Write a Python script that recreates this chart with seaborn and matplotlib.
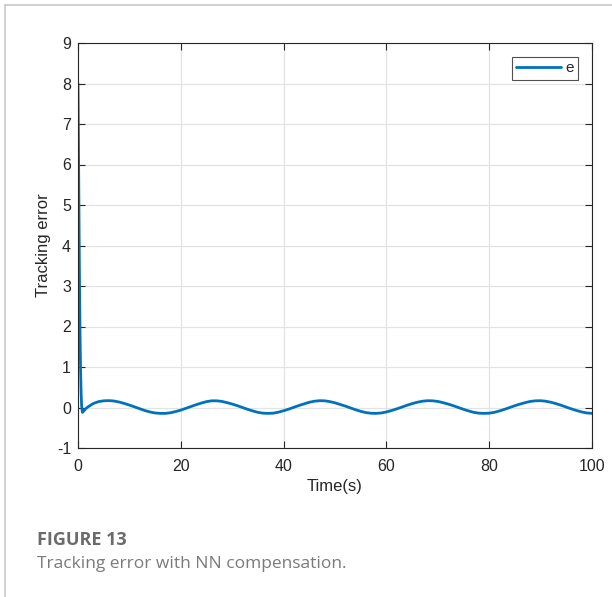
import matplotlib
matplotlib.use("Agg")
import matplotlib.pyplot as plt
from matplotlib.lines import Line2D
import seaborn as sns
import pandas as pd

# ---- data ----
time_head = [0, 0.1, 0.2, 0.3, 0.4, 0.5, 0.6, 0.7, 0.85, 1.1, 1.5]
error_head = [8.0, 6.4, 4.6, 3.0, 1.8, 0.95, 0.4, 0.05, -0.12, -0.09, -0.03]

time_body = list(range(2, 101))
error_body = [
    0.02, 0.10, 0.145, 0.165, 0.17, 0.16, 0.135, 0.10, 0.06,           # 2-10
    0.015, -0.03, -0.075, -0.11, -0.135, -0.145, -0.145, -0.13, -0.10, -0.065,  # 11-20
    -0.02, 0.025, 0.07, 0.11, 0.145, 0.165, 0.165, 0.15, 0.12, 0.085,   # 21-30
    0.045, 0.0, -0.045, -0.085, -0.12, -0.14, -0.145, -0.14, -0.115, -0.08,  # 31-40
    -0.04, 0.005, 0.05, 0.09, 0.13, 0.155, 0.168, 0.165, 0.145, 0.115,  # 41-50
    0.075, 0.035, -0.01, -0.055, -0.095, -0.125, -0.142, -0.145, -0.135, -0.11,  # 51-60
    -0.075, -0.035, 0.01, 0.055, 0.095, 0.13, 0.155, 0.168, 0.165, 0.15,  # 61-70
    0.12, 0.085, 0.045, 0.0, -0.045, -0.085, -0.12, -0.14, -0.145, -0.14,  # 71-80
    -0.12, -0.085, -0.045, 0.0, 0.045, 0.085, 0.12, 0.15, 0.165, 0.168,  # 81-90
    0.155, 0.13, 0.095, 0.055, 0.01, -0.035, -0.075, -0.11, -0.135, -0.145,  # 91-100
]

x_ticks = [0, 20, 40, 60, 80, 100]
y_ticks = [-1, 0, 1, 2, 3, 4, 5, 6, 7, 8, 9]

df = pd.DataFrame({"Time": time_head + time_body, "e": error_head + error_body})

sns.set_style("ticks")
plt.rcParams["font.family"] = ["Liberation Sans", "DejaVu Sans"]
plt.rcParams["axes.unicode_minus"] = False

W, H = 612, 597
fig = plt.figure(figsize=(W / 100, H / 100), dpi=100)
ax = fig.add_axes([78 / W, 1 - 448 / H, (592 - 78) / W, (448 - 43) / H])

sns.lineplot(data=df, x="Time", y="e", ax=ax, color="#0072BD", linewidth=2.0,
             label="e", sort=False, estimator=None)

ax.set_xlim(0, 100)
ax.set_ylim(-1, 9)
ax.set_xticks(x_ticks)
ax.set_yticks(y_ticks)
ax.grid(True, color="#e3e3e3", linewidth=0.9)
ax.set_axisbelow(True)
for s in ax.spines.values():
    s.set_visible(True)
    s.set_color("#262626")
    s.set_linewidth(0.8)
ax.tick_params(direction="in", top=True, right=True, length=5, width=0.8,
               labelsize=11.5, colors="#262626")
ax.tick_params(axis="x", pad=8)
ax.tick_params(axis="y", pad=5)
ax.set_xlabel("Time(s)", fontsize=12, color="#262626", labelpad=3.5)
ax.set_ylabel("Tracking error", fontsize=12, color="#262626", labelpad=4)

leg = ax.legend(loc="upper right", fontsize=11, frameon=True, fancybox=False,
                handlelength=2.9, borderpad=0.3, handletextpad=0.3,
                borderaxespad=0.9)
leg.get_frame().set_edgecolor("#262626")
leg.get_frame().set_linewidth(0.8)

# card border (top and left)
fig.add_artist(Line2D([4.5 / W, 4.5 / W], [0, 1 - 4.5 / H], transform=fig.transFigure,
                      color="#c8c8c8", linewidth=1.2))
fig.add_artist(Line2D([4.5 / W, 1], [1 - 4.5 / H, 1 - 4.5 / H], transform=fig.transFigure,
                      color="#c8c8c8", linewidth=1.2))

fig.text(37 / W, 1 - 545 / H, "FIGURE 13", fontsize=13, fontweight="bold",
         color="#6b6b6b", family=["Open Sans", "DejaVu Sans"], va="baseline")
fig.text(37 / W, 1 - 568 / H, "Tracking error with NN compensation.", fontsize=12.5,
         color="#7a7a7a", family=["Open Sans", "DejaVu Sans"], va="baseline")

fig.savefig("out.png", dpi=100)
